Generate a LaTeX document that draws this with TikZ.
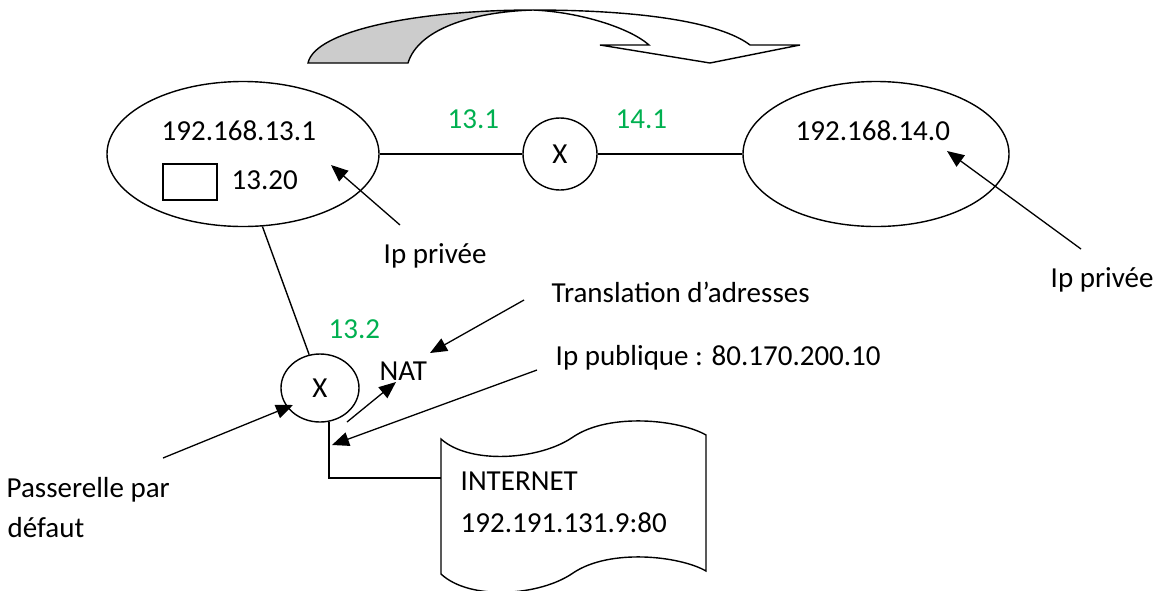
\documentclass[tikz,border=0pt]{standalone}
\usepackage{fontspec}
\setmainfont{Carlito}
\usetikzlibrary{shapes.geometric,arrows.meta}
\definecolor{lblgreen}{RGB}{0,176,80}
\definecolor{shadegray}{RGB}{204,204,204}
\begin{document}
\begin{tikzpicture}[x=1pt,y=-1pt, line width=1.4pt,
  every node/.style={font=\fontsize{29}{35}\selectfont, inner sep=0pt},
  net/.style={draw, ellipse, minimum width=#1, minimum height=145pt},
  router/.style={draw, ellipse, minimum width=74pt, minimum height=72pt},
  txt/.style={anchor=base west},
  gr/.style={anchor=base west, text=lblgreen},
  arr/.style={-{Triangle[length=17pt,width=14pt]}, line width=1.3pt}]
\useasboundingbox (0,0) rectangle (1158,590);

% top curved arrow
\fill[shadegray, draw=black] (308,63) -- (408,63) .. controls (418,30) and (470,12) .. (533,10)
   .. controls (420,10) and (315,30) .. (308,63) -- cycle;
\filldraw[fill=white, line join=miter] (533,10) .. controls (640,10) and (720,22) .. (750,45)
   -- (800,45) -- (710,63) -- (600,45) -- (649,45)
   .. controls (630,28) and (580,12) .. (533,10);

% networks
\node[net=272pt] (L) at (243,154) {};
\node[net=266pt] (R) at (876,154) {};
\node[router] (X1) at (560,154) {X};
\node[router, minimum width=78pt, minimum height=68pt] (G) at (320,388) {X};

\node[txt] (t1) at (161,140) {192.168.13.1};
\node[draw, minimum width=54pt, minimum height=36pt] (box) at (190,182) {};
\node[txt] (t2) at (231,189) {13.20};
\node[txt] (t3) at (795,140) {192.168.14.0};
\node[gr] (g1) at (447,128) {13.1};
\node[gr] (g2) at (615,128) {14.1};
\node[gr] (g3) at (328,338) {13.2};
\node[txt] (nat) at (379,380) {NAT};

\node[txt] (ipl) at (383,263) {Ip privée};
\node[txt] (ipr) at (1050,287) {Ip privée};
\node[txt] (trans) at (551,302) {Translation d’adresses};
\node[txt] (pub) at (555,365) {Ip publique : 80.170.200.10};
\node[txt] (pas1) at (6,497) {Passerelle par};
\node[txt] (pas2) at (7,537) {défaut};

% internet shape
\draw (441,439) .. controls (470,465) and (540,460) .. (573,437)
   .. controls (610,412) and (680,420) .. (706,435)
   -- (706,571) .. controls (680,556) and (610,548) .. (573,573)
   .. controls (540,596) and (470,601) .. (441,574) -- cycle;
\coordinate (I) at (441,478);
\node[txt] (inet1) at (460,490) {INTERNET};
\node[txt] (inet2) at (460,532) {192.191.131.9:80};

% connections
\draw (L.east |- X1.west) -- (X1.west);
\draw (X1.east) -- (X1.east -| R.west);
\draw (L.-75) -- (G.108);
\draw (G.-75) |- (I);

% arrows
\coordinate (a1s) at (400,225); \coordinate (a1e) at (331,165);
\coordinate (a2s) at (1081,249); \coordinate (a2e) at (947,151);
\coordinate (a3s) at (524,300); \coordinate (a3e) at (430,353);
\coordinate (a4s) at (537,370); \coordinate (a4e) at (332,445);
\coordinate (a5s) at (347,422); \coordinate (a5e) at (396,382);
\coordinate (a6s) at (163,458); \coordinate (a6e) at (293,405);
\draw[arr] (a1s) -- (a1e);
\draw[arr] (a2s) -- (a2e);
\draw[arr] (a3s) -- (a3e);
\draw[arr] (a4s) -- (a4e);
\draw[arr] (a5s) -- (a5e);
\draw[arr] (a6s) -- (a6e);
\end{tikzpicture}
\end{document}
